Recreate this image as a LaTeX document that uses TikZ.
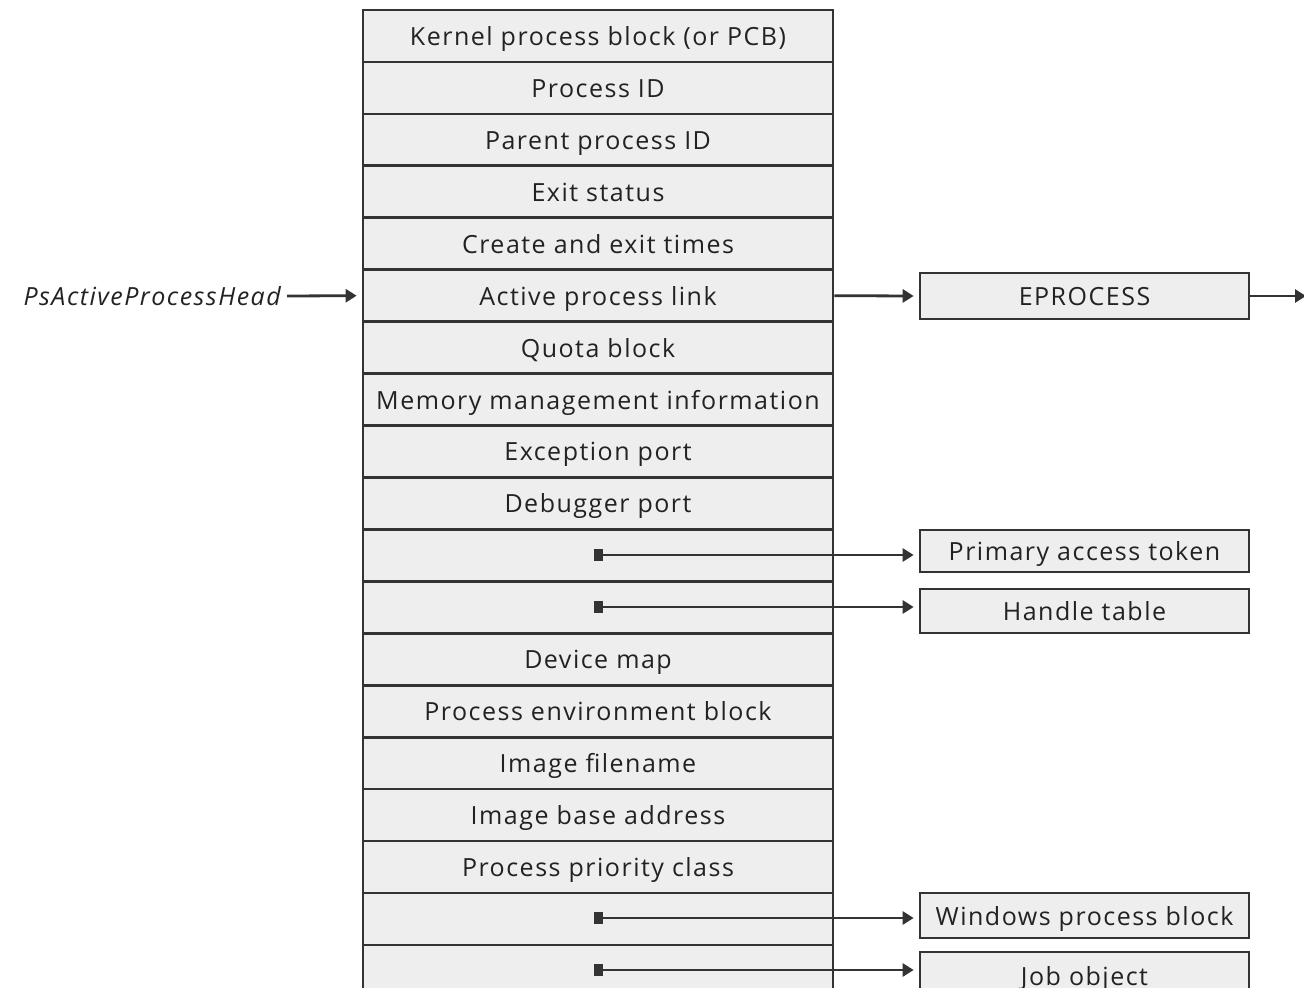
\documentclass[tikz,border=0pt]{standalone}
\usepackage{fontspec}
\setmainfont{Open Sans}[LetterSpace=6]
\usetikzlibrary{arrows.meta}
\definecolor{boxfill}{HTML}{EEEEEE}
\definecolor{ink}{HTML}{333333}
\definecolor{txt}{HTML}{222222}
\tikzset{
  lbl/.style={text=txt, font=\fontsize{25}{28}\selectfont, text height=20pt, text depth=1pt},
  cell/.style={lbl, draw=ink, fill=boxfill, line width=2.7pt, minimum width=470pt, minimum height=51.94pt, inner sep=0pt},
  side/.style={lbl, draw=ink, fill=boxfill, line width=2.7pt, minimum width=329pt, inner sep=0pt},
  link/.style={draw=ink, line width=2.8pt, -{Triangle[length=11pt,width=13pt]}},
  plink/.style={link, {Square[length=9pt,width=12pt]}-{Triangle[length=11pt,width=13pt]}},
}
\begin{document}
\begin{tikzpicture}[x=1pt,y=-1pt]
\useasboundingbox (0,0) rectangle (1304,988);
\clip (0,0) rectangle (1304,988);
\foreach \i/\t in {0/Kernel process block (or PCB),1/Process ID,2/Parent process ID,3/Exit status,4/Create and exit times,5/Active process link,6/Quota block,7/Memory management information,8/Exception port,9/Debugger port,10/,11/,12/Device map,13/Process environment block,14/Image filename,15/Image base address,16/Process priority class,17/,18/}{
  \node[cell] (r\i) at (598, 10+51.94*\i+25.97) {\t};
}
% left label
\node[lbl, font=\fontsize{25}{28}\selectfont\itshape, anchor=east, inner sep=0pt] (head) at (281,296) {PsActiveProcessHead};
\draw[link] ([xshift=6pt]head.east) -- ([xshift=-5pt]r5.west);
% EPROCESS
\node[side, minimum height=46pt] (ep) at (1084.5,296) {EPROCESS};
\draw[link] (r5.east) -- ([xshift=-5pt]ep.west);
\coordinate (out) at (1306,296);
\draw[link] (ep.east) -- (out);
% pointer targets
\node[side, minimum height=42pt] (tok) at (1084.5,551) {Primary access token};
\node[side, minimum height=44pt] (ht) at (1084.5,611) {Handle table};
\node[side, minimum height=45pt] (wpb) at (1084.5,915.5) {Windows process block};
\node[side, minimum height=48pt] (job) at (1084.5,976) {Job object};
\coordinate (p10) at (594,555);
\coordinate (p11) at (594,607);
\coordinate (p17) at (594,918);
\coordinate (p18) at (594,970);
\draw[plink] (p10) -- ([xshift=-5pt]tok.west |- p10);
\draw[plink] (p11) -- ([xshift=-5pt]ht.west |- p11);
\draw[plink] (p17) -- ([xshift=-5pt]wpb.west |- p17);
\draw[plink] (p18) -- ([xshift=-5pt]job.west |- p18);
\end{tikzpicture}
\end{document}
